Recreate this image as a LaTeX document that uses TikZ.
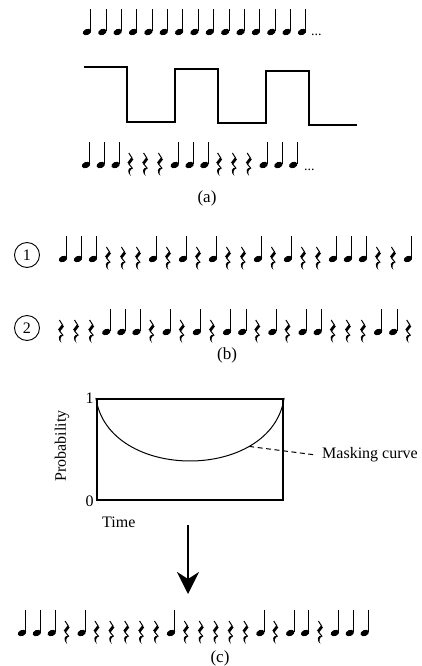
\documentclass[tikz,border=0pt]{standalone}
\usepackage{fontspec}
\setmainfont{Liberation Serif}
\usetikzlibrary{arrows.meta}

\tikzset{
  nt/.pic={
    \fill[rotate=22] (0,0) ellipse [x radius=4.4, y radius=3.0];
    \draw[line width=1pt] (3.8,-1) -- (3.8,-23);
  },
  rs/.pic={
    \draw[line width=1pt] (-1.6,-12) -- (1.9,-6.5);
    \draw[line width=2.8pt] (1.9,-6.5) -- (-1.9,-1.5);
    \draw[line width=1pt] (-1.9,-1.5) -- (2.2,3.5);
    \fill (2.4,3.3) .. controls (-2.8,1.2) and (-3.8,7.5) .. (0.4,11) .. controls (-1.4,7.2) and (-0.6,4.8) .. (2.4,3.3);
  },
  numcirc/.style={circle,draw,line width=0.9pt,minimum size=25pt,inner sep=0pt},
  caption/.style={font=\fontsize{17}{20}\selectfont}
}
\newcommand\noterow[4]{\foreach \s [count=\k from 0] in {#4} \pic at ({#1+\k*#3},#2) {\s};}

\begin{document}
\begin{tikzpicture}[x=1pt, y=-1pt, every node/.style={font=\fontsize{16}{19}\selectfont}]
\useasboundingbox (0,0) rectangle (421,666);

\noterow{87}{32}{15.36}{nt,nt,nt,nt,nt,nt,nt,nt,nt,nt,nt,nt,nt,nt,nt}
\node[anchor=base west,inner sep=0pt,font=\fontsize{14}{16}\selectfont] (dots1) at (311,36) {...};
\draw[line width=1.2pt] (84,67) -- (127,67) -- (127,122) -- (175,122) -- (175,69) -- (218,69)
  -- (218,123) -- (266,123) -- (266,71) -- (309,71) -- (309,125) -- (357,125);
\noterow{86}{165}{14.8}{nt,nt,nt,rs,rs,rs,nt,nt,nt,rs,rs,rs,nt,nt,nt}
\node[anchor=base west,inner sep=0pt,font=\fontsize{14}{16}\selectfont] (dots2) at (304,170) {...};
\node[caption] (capa) at (207,198) {(a)};

\node[numcirc] (one) at (27,255) {1};
\noterow{63}{259}{15.0}{nt,nt,nt,rs,rs,rs,nt,rs,nt,rs,nt,rs,rs,nt,rs,nt,rs,rs,nt,nt,nt,rs,rs,nt}
\node[numcirc] (two) at (27,328) {2};
\noterow{61}{332}{15.1}{rs,rs,rs,nt,nt,nt,rs,nt,rs,nt,rs,nt,nt,rs,nt,rs,nt,nt,rs,rs,rs,nt,nt,rs}
\node[caption] (capb) at (227,355) {(b)};

\node[draw,line width=2.2pt,minimum width=186pt,minimum height=101pt,inner sep=0pt] (plot) at (190,449.5) {};
\node[anchor=east,inner sep=2pt] (ylo) at (plot.south west) {0};
\node[anchor=east,inner sep=2pt] (yhi) at (plot.north west) {1};
\node[rotate=90] (ylab) at (62,446) {Probability};
\node[anchor=west,inner sep=0pt] (xlab) at (102,522) {Time};
\draw[line width=1pt] (plot.north west) .. controls (108,482) and (272,482) .. (plot.north east)
  coordinate[pos=0.74] (mc);
\node[anchor=west,inner sep=0pt] (mask) at (322,455) {Masking curve};
\draw[dash pattern=on 5pt off 3.5pt,line width=1pt] (mc) -- ([xshift=-6pt]mask.west);

\coordinate (arrtop) at (188,525);
\coordinate (arrbot) at (188,594);
\draw[line width=2.5pt,-{Stealth[length=22pt,width=22pt,inset=7pt]}] (arrtop) -- (arrbot);

\noterow{22}{633}{14.9}{nt,nt,nt,rs,nt,rs,rs,rs,rs,rs,nt,rs,rs,rs,rs,rs,nt,rs,nt,nt,rs,nt,nt,nt}
\node[caption] (capc) at (220,658) {(c)};
\end{tikzpicture}
\end{document}
